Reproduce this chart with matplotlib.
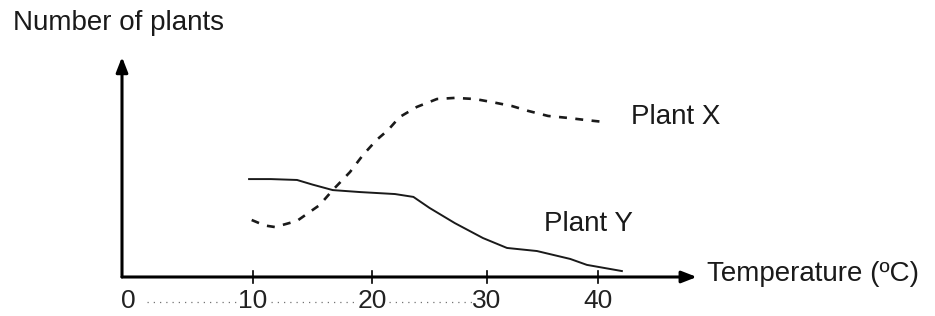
# -*- coding: utf-8 -*-
"""
Sketch: number of plants X and Y against temperature.
"""

import numpy as np
import matplotlib.pyplot as plt

# ---DATA---
tickValues = [0, 10, 20, 30, 40]
tickLabels = ['0', '10', '20', '30', '40']

plantXTemp = [9.9, 11.0, 11.85, 13.7, 15.6, 16.7, 18.15, 19.25, 20.4, 21.4, 22.4,
              23.9, 25.65, 27.2, 28.95, 30.45, 32.25, 33.7, 35.5, 37.3, 38.8, 40.45]
plantXCount = [25.9, 23.4, 22.7, 25.5, 32.7, 39.5, 47.7, 55.5, 62.3, 66.8, 72.7,
               77.3, 80.9, 81.4, 80.9, 79.5, 77.7, 75.5, 73.2, 72.3, 71.4, 70.5]

plantYTemp = [9.7, 11.5, 13.7, 15.0, 16.7, 19.0, 22.0, 23.6, 25.0, 27.2, 29.65,
              31.8, 34.5, 37.5, 39.0, 42.15]
plantYCount = [44.5, 44.5, 44.1, 42.0, 39.5, 38.6, 37.7, 36.4, 31.4, 24.5, 17.7,
               13.2, 11.8, 8.2, 5.5, 2.7]

yTop = 100      # end of the y arrow
xEnd = 48.9     # end of the x arrow

# The hand-drawn temperature axis is not evenly spaced:
# screen position (px) of each tick value
scaleTemps = np.array([0, 10, 20, 30, 40], dtype=float)
scalePixels = np.array([122, 253, 372, 487, 598], dtype=float)

# ---STYLE---
FONT = 'Liberation Sans'
SIZE = 20
INK = '#1a1a1a'


def temp_to_px(x):
    """ Piecewise linear temperature -> pixel map, extended at both ends. """
    x = np.asarray(x, dtype=float)
    lowSlope = (scalePixels[1] - scalePixels[0]) / 10
    highSlope = (scalePixels[-1] - scalePixels[-2]) / 10
    return np.where(x < 0, scalePixels[0] + lowSlope * x,
                    np.where(x > 40, scalePixels[-1] + highSlope * (x - 40),
                             np.interp(x, scaleTemps, scalePixels)))


def px_to_temp(p):
    """ Inverse of temp_to_px. """
    p = np.asarray(p, dtype=float)
    lowSlope = (scalePixels[1] - scalePixels[0]) / 10
    highSlope = (scalePixels[-1] - scalePixels[-2]) / 10
    return np.where(p < scalePixels[0], (p - scalePixels[0]) / lowSlope,
                    np.where(p > scalePixels[-1], 40 + (p - scalePixels[-1]) / highSlope,
                             np.interp(p, scalePixels, scaleTemps)))


def main():
    fig = plt.figure(figsize=(9.35, 3.16), dpi=100)
    ax = fig.add_axes([0, 0, 1, 1])
    ax.set_xscale('function', functions=(temp_to_px, px_to_temp))
    ax.set_xlim(float(px_to_temp(0)), float(px_to_temp(935)))
    ax.set_ylim(-17.73, 125.9)
    ax.axis('off')

    # Axes with arrows
    arrow = dict(arrowstyle='-|>,head_length=0.9,head_width=0.35',
                 color='black', lw=2.2, shrinkA=0, shrinkB=0)
    ax.annotate('', xy=(0, yTop), xytext=(0, 0), arrowprops=arrow)
    ax.annotate('', xy=(xEnd, 0), xytext=(0, 0), arrowprops=arrow)

    # Tick marks, faint dotted guide between labels, tick labels
    for value in tickValues[1:]:
        ax.plot([value, value], [-2.7, 2.7], color='black', lw=1.2)
    for a, b in zip(tickValues[:-2], tickValues[1:-1]):
        start = a + 1.9 if a == 0 else a + 1.5
        ax.plot([start, b - 1.2], [-11.3, -11.3], color='0.45', lw=0.9,
                ls=(0, (1, 4)))
    for value, label in zip(tickValues, tickLabels):
        x = value + 0.5 if value == 0 else value
        ax.text(x, -10.7, label, ha='center', va='center', family=FONT,
                fontsize=19, color='#222222')

    # Curves
    ax.plot(plantYTemp, plantYCount, color=INK, lw=1.4)
    ax.plot(plantXTemp, plantXCount, color=INK, lw=1.9,
            ls=(0, (3.0, 3.2)))

    # Labels
    ax.text(-8.3, 115.3, 'Number of plants', ha='left', va='center',
            family=FONT, fontsize=SIZE, color=INK)
    ax.text(49.8, 1.2, 'Temperature (ºC)', ha='left', va='center',
            family=FONT, fontsize=SIZE, color=INK)
    ax.text(43.0, 72.7, 'Plant X', ha='left', va='center',
            family=FONT, fontsize=SIZE, color=INK)
    ax.text(35.1, 24.0, 'Plant Y', ha='left', va='center',
            family=FONT, fontsize=SIZE, color=INK)

    fig.savefig('out.png', dpi=100, facecolor='white')


if __name__ == '__main__':
    main()
